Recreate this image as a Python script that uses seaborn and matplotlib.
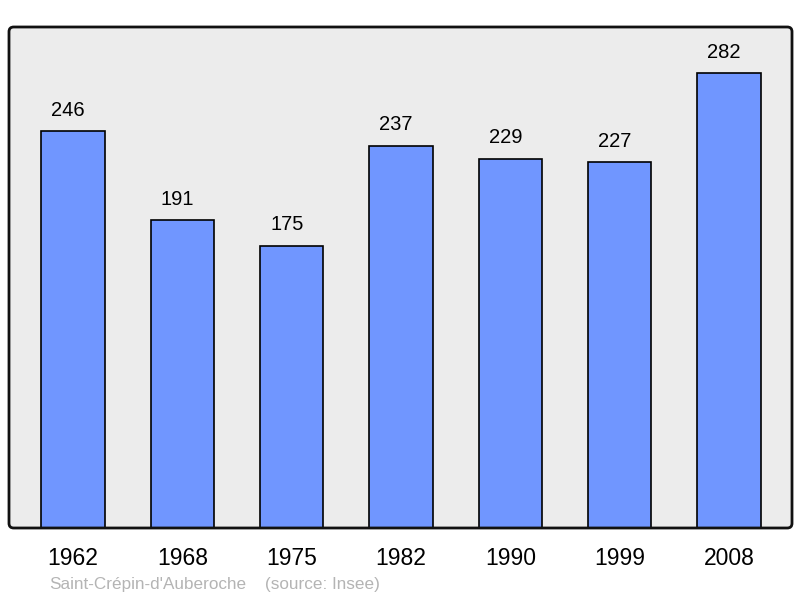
import matplotlib
matplotlib.use("Agg")
import matplotlib.pyplot as plt
from matplotlib.patches import FancyBboxPatch
import seaborn as sns

years = ["1962", "1968", "1975", "1982", "1990", "1999", "2008"]
population = [246, 191, 175, 237, 229, 227, 282]
town = "Saint-Crépin-d'Auberoche"
source = "(source: Insee)"

sns.set_style("white")
plt.rcParams['font.family'] = ['Liberation Sans', 'DejaVu Sans']
plt.rcParams['text.color'] = 'black'
plt.rcParams['xtick.color'] = 'black'

fig = plt.figure(figsize=(8, 5.98), dpi=100)
ax = fig.add_axes([9 / 800, 70 / 598, 783 / 800, 501 / 598])
ax.set_facecolor("#ececec")

sns.barplot(x=years, y=population, color="#7096ff", saturation=1,
            width=0.577, edgecolor="black", linewidth=1.2, ax=ax, zorder=2)

# value labels sit a bit left of bar centre in the original
for i, v in enumerate(population):
    ax.annotate(str(v), (i, v), xytext=(-3.5, 15), textcoords="offset points",
                ha="center", va="center", fontsize=14.5, color="black")

ax.set_ylim(0, 310.6)
ax.set_xlim(-0.585, 6.576)
ax.set_yticks([])
ax.tick_params(axis="x", length=0, pad=14, labelsize=16.5, labelcolor="black")
ax.set_xlabel("")
ax.set_ylabel("")
for s in ax.spines.values():
    s.set_visible(False)

frame = FancyBboxPatch((0, 0), 1, 1, boxstyle="round,pad=0,rounding_size=0.006",
                       mutation_aspect=783 / 501, transform=ax.transAxes,
                       fill=False, edgecolor="#111111", linewidth=2, clip_on=False, zorder=5)
ax.add_patch(frame)

fig.text(49 / 800, 14 / 598, town, fontsize=12.3, color="#b4b4b4", va="center")
fig.text(265 / 800, 14 / 598, source, fontsize=12.3, color="#b4b4b4", va="center")

fig.savefig("out.png", dpi=100)
